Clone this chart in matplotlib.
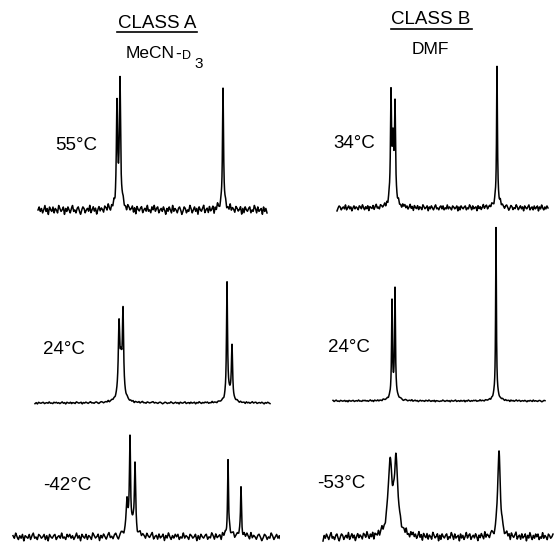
import numpy as np
import matplotlib
matplotlib.use('Agg')
import matplotlib.pyplot as plt
from matplotlib.lines import Line2D

plt.rcParams['font.family'] = ['Liberation Sans', 'DejaVu Sans']

W, H = 555, 545

# hand-typed baseline wiggle (arbitrary units), shared by all traces
noise = [0, 2, -1, 1, -2, 0, 3, -1, 1, -3, 2, 0, -1, 2, -2, 1, 0, -2, 3, 1,
         -1, 0, 2, -3, 1, -1, 2, 0, -2, 1, 3, -1, 0, -2, 1, 2, -1, -3, 0, 2,
         1, -2, 0, 1, -1, 3, -2, 0, 2, -1, 1, -3, 0, 2, -1, 1, 0, -2, 2, 1,
         -1, 3, 0, -2, 1, -1, 2, -3, 1, 0, -1, 2, -2, 1, 3, -1, 0, -2, 2, 1,
         -1, 0, 2, -2, 1, -3, 2, 0, -1, 1, 2, -2, 0, 1, -1, 3, -1, 0, -2, 2]

# class A (MeCN-d3): peak shift, height, half-width (last entries = broad feet)
a55_shift = [117, 120, 223, 119, 223]
a55_height = [98, 118, 114, 10, 6]
a55_width = [0.7, 0.7, 0.6, 3.0, 3.0]
a24_shift = [119, 121, 123, 227, 232, 121, 229]
a24_height = [66, 26, 78, 114, 52, 12, 9]
a24_width = [0.8, 1.2, 0.7, 0.6, 0.7, 3.5, 3.0]
a42_shift = [127, 130, 135, 228, 241, 131, 228, 241]
a42_height = [30, 86, 68, 72, 45, 12, 5, 4]
a42_width = [1.0, 0.6, 0.7, 0.5, 0.5, 4.0, 3.0, 3.0]

# class B (DMF)
b34_shift = [91, 93, 95, 197, 93, 197]
b34_height = [104, 50, 92, 132, 12, 8]
b34_width = [0.6, 0.8, 0.6, 0.5, 3.0, 3.0]
b24_shift = [92, 95, 196, 94, 196]
b24_height = [92, 102, 168, 10, 6]
b24_width = [0.5, 0.5, 0.45, 3.0, 3.0]
b53_shift = [90, 96, 199]
b53_height = [70, 72, 88]
b53_width = [2.3, 2.3, 1.5]

# (shifts, heights, widths, trace start, trace end, noise scale, noise offset,
#  column, baseline px, label, label x px, label y px)
panels = [
    (a55_shift, a55_height, a55_width, 38, 267, 1.5, 0, 0, 210, '55°C', 55, 145),
    (a24_shift, a24_height, a24_width, 35, 270, 0.35, 17, 0, 403, '24°C', 43, 349),
    (a42_shift, a42_height, a42_width, 13, 282, 1.3, 41, 0, 537, '-42°C', 43, 485),
    (b34_shift, b34_height, b34_width, 37, 248, 1.0, 63, 1, 208, '34°C', 333, 143),
    (b24_shift, b24_height, b24_width, 33, 245, 0.3, 29, 1, 401, '24°C', 328, 347),
    (b53_shift, b53_height, b53_width, 23, 253, 1.4, 77, 1, 537, '-53°C', 317, 483),
]
col_left = [0, 300]
col_width = [280, 255]

fig = plt.figure(figsize=(W / 100, H / 100), dpi=100)


def fx(px):
    return px / W


def fy(py):
    return 1 - py / H


for shifts, heights, widths, x0, x1, nscale, noff, col, base, label, lx, ly in panels:
    ax = fig.add_axes([fx(col_left[col]), fy(base + 12),
                       fx(col_width[col]), 200 / H])
    ax.set_xlim(0, col_width[col])
    ax.set_ylim(-12, 188)
    ax.axis('off')

    # two passes of the wiggle list give a denser, less regular baseline
    wiggle = np.concatenate([np.roll(noise, noff), np.roll(noise, noff + 37)[::-1]])
    x = np.linspace(x0, x1, 5000)
    coarse_x = np.linspace(x0, x1, len(wiggle))
    y = np.interp(x, coarse_x, wiggle) * nscale
    for s, h, w in zip(shifts, heights, widths):
        y = y + h / (1 + ((x - s) / w) ** 2)
    ax.plot(x, y, color='black', lw=1.1)

    fig.text(fx(lx), fy(ly), label, fontsize=13.5, ha='left', va='center')

# column headers
fig.text(fx(157), fy(23), 'CLASS A', fontsize=13.5, ha='center', va='center')
fig.add_artist(Line2D([fx(117), fx(197)], [fy(32), fy(32)], color='black', lw=1.2))
fig.text(fx(431), fy(20), 'CLASS B', fontsize=13.5, ha='center', va='center')
fig.add_artist(Line2D([fx(391), fx(472)], [fy(29), fy(29)], color='black', lw=1.2))

fig.text(fx(126), fy(53), 'MeCN', fontsize=12.5, ha='left', va='center')
fig.text(fx(175), fy(54), '-', fontsize=12.5, ha='left', va='center')
fig.text(fx(182), fy(56), 'D', fontsize=9, ha='left', va='center')
fig.text(fx(194), fy(64), '3', fontsize=11, ha='left', va='center')
fig.text(fx(430), fy(50), 'DMF', fontsize=12.5, ha='center', va='center')

fig.savefig('out.png', dpi=100)
